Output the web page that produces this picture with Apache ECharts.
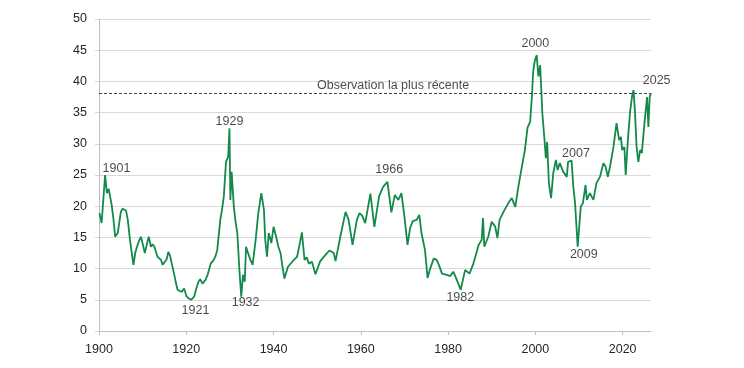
<!DOCTYPE html>
<html>
<head>
<meta charset="utf-8">
<script src="https://cdn.jsdelivr.net/npm/echarts@6/dist/echarts.min.js"></script>
<style>
html,body{margin:0;padding:0;background:#fff;}
#chart{width:744px;height:368px;}
</style>
</head>
<body>
<div id="chart"></div>
<script>
var years = [1900.1,1900.6,1901.4,1901.8,1902.2,1902.5,1902.9,1903.3,1903.7,1904.3,1905.0,1905.4,1905.8,1906.2,1906.6,1907.1,1907.5,1907.9,1908.3,1908.7,1909.2,1909.6,1910.0,1910.5,1911.0,1911.4,1911.9,1912.3,1912.7,1913.4,1914.2,1914.6,1915.0,1915.5,1915.9,1916.3,1916.7,1917.2,1917.6,1918.0,1918.5,1919.0,1919.5,1920.1,1920.6,1921.1,1921.4,1921.8,1922.3,1922.8,1923.2,1923.7,1924.4,1924.9,1925.6,1926.3,1926.7,1927.1,1927.8,1928.2,1928.6,1929.1,1929.6,1929.9,1930.1,1930.4,1930.9,1931.3,1931.7,1932.2,1932.6,1933.0,1933.4,1933.7,1934.0,1934.3,1934.7,1935.2,1935.9,1936.5,1937.2,1937.8,1938.1,1938.5,1938.9,1939.5,1940.0,1940.6,1941.1,1941.6,1942.0,1942.5,1943.3,1944.3,1945.4,1946.0,1946.5,1947.1,1947.6,1948.1,1948.8,1949.6,1950.7,1951.9,1952.8,1953.8,1954.2,1955.3,1956.5,1957.2,1958.1,1959.1,1959.7,1960.3,1961.0,1962.2,1963.1,1964.2,1965.1,1966.1,1967.0,1967.8,1968.6,1969.3,1970.0,1970.7,1971.3,1971.9,1972.8,1973.4,1973.9,1974.7,1975.3,1975.9,1976.7,1977.4,1978.0,1978.6,1979.7,1980.5,1981.2,1982.0,1982.9,1983.9,1984.9,1985.8,1987.0,1987.7,1988.0,1988.3,1989.2,1990.0,1990.8,1991.3,1991.8,1992.7,1993.8,1994.6,1995.4,1996.1,1996.9,1997.6,1998.2,1998.8,1999.2,1999.5,1999.9,2000.3,2000.7,2001.1,2001.6,2002.1,2002.4,2002.7,2003.1,2003.6,2004.1,2004.7,2005.1,2005.6,2006.4,2007.2,2007.5,2008.3,2008.7,2009.1,2009.7,2010.4,2010.9,2011.5,2011.8,2012.5,2013.3,2014.0,2014.8,2015.6,2016.1,2016.6,2017.1,2017.9,2018.6,2019.2,2019.6,2019.9,2020.4,2020.7,2021.2,2021.7,2022.2,2022.5,2022.8,2023.2,2023.6,2024.0,2024.4,2025.0,2025.6,2025.9,2026.2,2026.5];
var cape = [18.9,17.3,25.0,22.1,22.8,23.1,20.2,18.0,15.1,15.7,19.1,19.6,19.9,19.3,17.8,14.6,12.5,10.6,12.5,13.5,14.5,15.1,14.0,12.5,14.0,15.1,13.5,13.9,13.5,11.9,11.4,10.6,10.3,11.5,12.7,12.0,11.9,9.2,7.8,6.6,6.4,6.3,6.8,5.5,5.2,5.0,4.7,5.5,6.8,7.9,8.3,7.6,8.2,9.0,10.8,11.4,12.0,13.0,17.8,19.5,21.5,27.1,27.9,32.5,21.0,25.5,19.9,17.5,15.7,9.5,5.5,9.0,7.9,13.5,12.8,13.0,11.4,10.6,14.6,18.9,22.1,19.4,14.6,11.9,15.7,14.1,16.7,15.1,13.5,12.5,10.5,8.4,10.3,11.1,11.9,14.0,15.8,11.4,11.8,10.8,11.1,9.1,11.2,12.2,12.9,12.5,11.2,15.1,19.1,17.8,13.8,17.8,18.9,18.5,17.3,22.0,16.7,21.6,23.1,23.9,19.0,21.8,21.0,22.1,18.3,13.8,16.5,17.6,17.8,18.6,15.7,13.0,8.5,10.0,11.6,11.4,10.4,9.2,9.0,8.8,9.5,8.2,6.6,9.8,9.2,10.8,13.8,14.6,18.1,13.5,15.1,17.5,16.7,14.9,17.8,19.1,20.5,21.3,19.9,23.1,26.3,29.0,32.6,33.5,37.5,41.6,43.4,44.2,40.8,42.6,34.9,30.6,27.7,30.3,23.7,21.3,25.3,27.4,25.8,26.9,25.5,24.7,27.1,27.3,23.1,20.5,13.5,19.9,20.5,23.4,21.0,22.1,21.0,23.7,24.7,26.9,26.3,24.7,26.3,29.5,33.3,30.6,31.1,29.0,29.5,25.0,30.6,35.1,37.8,38.6,35.4,29.5,27.1,29.0,28.5,33.3,37.5,32.7,37.5,38.1];
var latestValue = 38.1;
var latestLabel = "Observation la plus récente";
var xTickLabels = [1900,1920,1940,1960,1980,2000,2020];
var annoText = ["1901","1929","1921","1932","1966","1982","2000","2007","2009","2025",latestLabel];
var annoX = [1904.0,1929.9,1922.1,1933.6,1966.5,1982.8,2000.0,2009.3,2011.1,2027.8,1967.4];
var annoY = [26.1,33.6,3.2,4.5,25.8,5.3,46.0,28.4,12.2,40.1,39.3];

var lineData = years.map(function(y,i){return [y, cape[i]];});
var annoData = annoText.map(function(t,i){return {value:[annoX[i], annoY[i]], name:t};});

var chart = echarts.init(document.getElementById('chart'), null, {renderer:'canvas'});
chart.setOption({
  animation:false,
  backgroundColor:'#ffffff',
  grid:{left:99, right:93, top:19, bottom:37, containLabel:false},
  xAxis:{
    type:'value', min:1900, max:2026.5,
    axisLine:{show:true, onZero:false, lineStyle:{color:'#bfbfbf', width:1}},
    axisTick:{show:true, length:4, lineStyle:{color:'#bfbfbf'}, customValues:xTickLabels},
    axisLabel:{color:'#262626', fontSize:12.5, fontFamily:'Liberation Sans', margin:12, customValues:xTickLabels, formatter:function(v){return String(Math.round(v));}},
    splitLine:{show:false}
  },
  yAxis:{
    type:'value', min:0, max:50, interval:5,
    axisLine:{show:true, lineStyle:{color:'#bfbfbf', width:1}},
    axisTick:{show:true, length:4, lineStyle:{color:'#d9d9d9'}},
    axisLabel:{color:'#262626', fontSize:12.5, fontFamily:'Liberation Sans', margin:12},
    splitLine:{show:true, lineStyle:{color:'#d9d9d9', width:1}}
  },
  series:[
    {
      type:'line', data:lineData, showSymbol:false, symbol:'none',
      lineStyle:{color:'#138a4a', width:1.8},
      z:3,
      markLine:{
        silent:true, symbol:'none',
        label:{show:false},
        lineStyle:{color:'#444', type:[3,2], width:1},
        data:[{yAxis:latestValue}]
      }
    },
    {
      type:'scatter', data:annoData, symbolSize:0, clip:false, silent:true,
      label:{show:true, position:'inside', formatter:'{b}', color:'#1a1a1a', fontSize:12.5, fontFamily:'Liberation Sans'},
      z:5
    }
  ]
});
</script>
</body>
</html>
